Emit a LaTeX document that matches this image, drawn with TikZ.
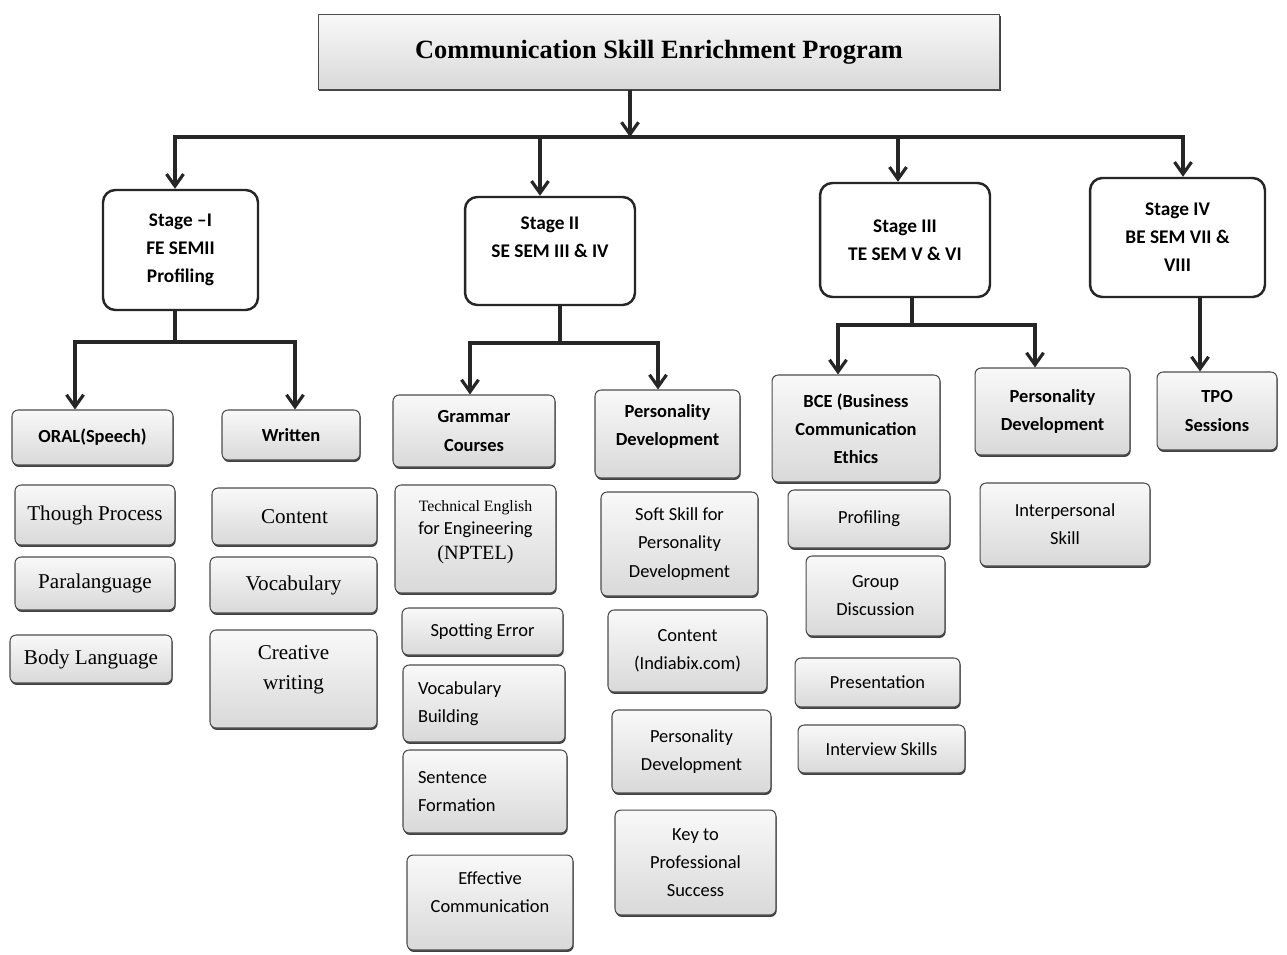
\documentclass[tikz,border=0pt]{standalone}
\usepackage{fontspec}
\setmainfont{Carlito}
\newfontfamily\tms{Liberation Serif}
\usetikzlibrary{arrows.meta,shadows,calc}
\begin{document}
\begin{tikzpicture}[x=0.02cm,y=-0.02cm,
  conn/.style={line width=1.8pt, draw=black!85, line join=miter},
  arr/.style={conn, -{Straight Barb[length=2.4mm,width=3.4mm]}},
  stagebox/.style={draw=black!85, line width=1.4pt, rounded corners=7pt, fill=white, align=center,
    font=\bfseries\fontsize{11}{16}\selectfont, inner sep=2pt},
  gbox/.style={draw=black!70, line width=0.6pt, rounded corners=3.5pt, top color=gray!5, bottom color=gray!30,
    drop shadow={shadow xshift=0.4pt, shadow yshift=-1.1pt, opacity=1, fill=black!75},
    align=center, inner sep=2pt, font=\fontsize{10.5}{16}\selectfont},
  bt/.style={font=\bfseries\fontsize{10.5}{16}\selectfont},
  sr/.style={font=\tms\fontsize{12}{17}\selectfont},
]
\useasboundingbox (0,0) rectangle (1287,954);
\fill[white] (0,0) rectangle (1287,954);

% title
\node[gbox, rounded corners=0pt, minimum width=13.64cm, minimum height=1.5cm,
  font=\tms\bfseries\fontsize{15}{18}\selectfont] (title) at (659,52) {Communication Skill Enrichment Program};

% stages
\node[stagebox, minimum width=3.1cm, minimum height=2.4cm] (s1) at (180.5,250) {Stage –I\\FE SEMII\\Profiling};
\node[stagebox, minimum width=3.4cm, minimum height=2.16cm] (s2) at (550,251) {Stage II\\SE SEM III \& IV\\\mbox{}};
\node[stagebox, minimum width=3.4cm, minimum height=2.28cm] (s3) at (905,240) {Stage III\\TE SEM V \& VI};
\node[stagebox, minimum width=3.5cm, minimum height=2.38cm] (s4) at (1177.5,237.5) {Stage IV\\BE SEM VII \&\\VIII};

% stage I column
\node[gbox, bt, minimum width=3.22cm, minimum height=1.1cm] (oral) at (92.5,437.5) {ORAL(Speech)};
\node[gbox, sr, minimum width=3.2cm, minimum height=1.2cm] (though) at (95,515) {Though Process};
\node[gbox, sr, minimum width=3.2cm, minimum height=1.06cm] (para) at (95,583.5) {Paralanguage};
\node[gbox, sr, minimum width=3.24cm, minimum height=0.96cm] (body) at (91,659) {Body Language};

\node[gbox, bt, minimum width=2.76cm, minimum height=1.0cm] (written) at (291,435) {Written};
\node[gbox, sr, minimum width=3.3cm, minimum height=1.14cm] (content) at (294.5,516.5) {Content};
\node[gbox, sr, minimum width=3.34cm, minimum height=1.12cm] (vocab) at (293.5,585) {Vocabulary};
\node[gbox, sr, minimum width=3.34cm, minimum height=1.96cm] (creative) at (293.5,679) {Creative\\writing\\[-4pt]\mbox{}};

% stage II columns
\node[gbox, bt, minimum width=3.24cm, minimum height=1.44cm] (grammar) at (474,431) {Grammar\\Courses};
\node[gbox, minimum width=3.22cm, minimum height=2.16cm] (tech) at (475.5,539)
  {{\tms\fontsize{9}{12}\selectfont Technical English}\\[-3pt]for Engineering\\[-2pt]{\tms\fontsize{11.5}{14}\selectfont (NPTEL)}\\[-6pt]\mbox{}};
\node[gbox, minimum width=3.22cm, minimum height=0.94cm] (spot) at (482.5,631.5) {Spotting Error};
\node[gbox, minimum width=3.24cm, minimum height=1.54cm, align=left, text width=2.64cm, inner xsep=0.3cm] (vb) at (484,703.5) {Vocabulary\\Building};
\node[gbox, minimum width=3.28cm, minimum height=1.66cm, align=left, text width=2.68cm, inner xsep=0.3cm] (sent) at (485,791.5) {Sentence\\Formation};
\node[gbox, minimum width=3.32cm, minimum height=1.9cm] (eff) at (490,902.5) {Effective\\Communication\\[-4pt]\mbox{}};

\node[gbox, bt, minimum width=2.9cm, minimum height=1.76cm] (pd2) at (667.5,434) {Personality\\Development\\[-6pt]\mbox{}};
\node[gbox, minimum width=3.14cm, minimum height=2.08cm] (soft) at (679.5,544) {Soft Skill for\\Personality\\Development};
\node[gbox, minimum width=3.18cm, minimum height=1.64cm] (indiabix) at (687.5,651) {Content\\(Indiabix.com)};
\node[gbox, minimum width=3.18cm, minimum height=1.66cm] (pd2b) at (691.5,751.5) {Personality\\Development};
\node[gbox, minimum width=3.22cm, minimum height=2.1cm] (key) at (695.5,862.5) {Key to\\Professional\\Success};

% stage III columns
\node[gbox, bt, minimum width=3.36cm, minimum height=2.14cm] (bce) at (856,428.5) {BCE (Business\\Communication\\Ethics};
\node[gbox, minimum width=3.24cm, minimum height=1.16cm] (prof) at (869,519) {Profiling};
\node[gbox, minimum width=2.78cm, minimum height=1.6cm] (gd) at (875.5,596) {Group\\Discussion};
\node[gbox, minimum width=3.3cm, minimum height=0.98cm] (pres) at (877.5,682.5) {Presentation};
\node[gbox, minimum width=3.34cm, minimum height=0.96cm] (interview) at (881.5,749) {Interview Skills};

\node[gbox, bt, minimum width=3.1cm, minimum height=1.74cm] (pd3) at (1052.5,411.5) {Personality\\Development};
\node[gbox, minimum width=3.4cm, minimum height=1.66cm] (inter) at (1065,524.5) {Interpersonal\\Skill};

% stage IV
\node[gbox, bt, minimum width=2.4cm, minimum height=1.56cm] (tpo) at (1217,411) {TPO\\Sessions};

% connectors: top level
\coordinate (tb) at (630,137);
\coordinate (bL) at (175,137);
\coordinate (b2) at (540,137);
\coordinate (b3) at (898,137);
\coordinate (bR) at (1183,137);
\draw[arr] (title.south -| tb) -- (tb);
\draw[arr] (tb) -- (bL) -- (bL |- s1.north);
\draw[arr] (tb) -- (bR) -- (bR |- s4.north);
\draw[arr] (b2) -- (b2 |- s2.north);
\draw[arr] (b3) -- (b3 |- s3.north);

% stage I split
\coordinate (j1) at (175,342);
\coordinate (j1l) at (75,342);
\coordinate (j1r) at (295,342);
\draw[conn] (s1.south -| j1) -- (j1);
\draw[arr] (j1) -- (j1l) -- (j1l |- oral.north);
\draw[arr] (j1) -- (j1r) -- (j1r |- written.north);

% stage II split
\coordinate (j2) at (560,343);
\coordinate (j2l) at (470,343);
\coordinate (j2r) at (658,343);
\draw[conn] (s2.south -| j2) -- (j2);
\draw[arr] (j2) -- (j2l) -- (j2l |- grammar.north);
\draw[arr] (j2) -- (j2r) -- (j2r |- pd2.north);

% stage III split
\coordinate (j3) at (912,325);
\coordinate (j3l) at (838,325);
\coordinate (j3r) at (1035,325);
\draw[conn] (s3.south -| j3) -- (j3);
\draw[arr] (j3) -- (j3l) -- (j3l |- bce.north);
\draw[arr] (j3) -- (j3r) -- (j3r |- pd3.north);

% stage IV
\coordinate (j4) at (1200,297);
\draw[arr] (s4.south -| j4) -- (j4 |- tpo.north);
\end{tikzpicture}
\end{document}
